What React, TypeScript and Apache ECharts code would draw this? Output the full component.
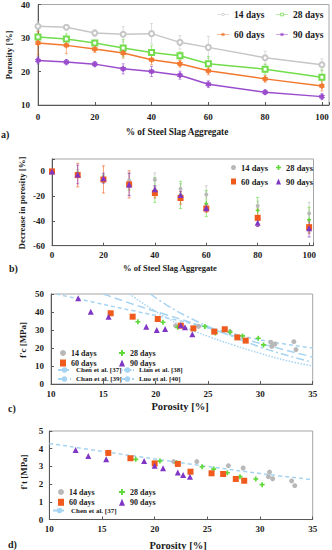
import React, { useEffect, useRef } from "react";
import * as echarts from "echarts";

// ---------- data ----------
const ssaLevels = [0, 10, 20, 30, 40, 50, 60, 80, 100];
const por14 = [33.5, 33.2, 31.5, 31.1, 31.3, 28.7, 27.2, 24.1, 22.0];
const por28 = [30.3, 29.7, 28.5, 27.0, 25.7, 24.7, 22.3, 20.7, 18.3];
const por60 = [28.5, 27.8, 26.7, 25.5, 23.5, 22.3, 20.2, 17.8, 15.7];
const por90 = [23.3, 22.8, 22.2, 20.8, 20.0, 18.9, 16.2, 13.8, 12.5];
const porErr14 = [1.5, 0.6, 1.0, 2.3, 3.0, 2.0, 3.3, 2.0, 1.8];
const porErr28 = [1.0, 1.5, 0.8, 2.5, 2.0, 1.2, 2.2, 1.5, 2.2];
const porErr60 = [3.5, 2.5, 1.0, 1.5, 1.5, 1.0, 1.2, 1.0, 1.5];
const porErr90 = [1.0, 0.8, 0.8, 1.5, 1.5, 1.2, 1.0, 0.7, 0.9];

const dec14 = [0, -1.5, -6, -7.3, -6.8, -14, -18.6, -28, -34];
const dec28 = [0, -2, -6, -11, -15, -19, -26, -31.5, -39];
const dec60 = [0, -3, -6.5, -10.5, -17.5, -21.5, -30, -37.5, -45];
const dec90 = [0, -2.5, -5.5, -10.5, -14.5, -19, -29.5, -41.5, -46];
const decErr14 = [0, 3, 3, 6, 5.5, 4, 7, 4, 9];
const decErr28 = [0, 2, 3, 4, 10, 11, 10.5, 10.5, 10];
const decErr60 = [0, 9.5, 11, 11, 4, 5, 3, 7, 5];
const decErr90 = [0, 7.5, 4, 9, 3, 3, 3, 3, 7];

// compressive strength vs porosity [porosity, f'c]
const fc14 = [[21.9, 32.4], [24.1, 32.0], [27.1, 29.1], [31.0, 23.2], [31.1, 20.9], [31.4, 22.2], [33.2, 23.5], [33.4, 19.1]];
const fc28 = [[18.3, 34.6], [20.7, 34.3], [22.1, 31.5], [24.7, 32.0], [25.7, 28.3], [27.1, 28.9], [28.3, 26.7], [29.8, 25.4], [30.3, 21.7]];
const fc60 = [[15.7, 39.3], [17.8, 37.4], [20.2, 36.1], [22.4, 32.4], [23.6, 30.9], [25.6, 29.1], [26.6, 30.4], [27.8, 25.9], [28.6, 24.1]];
const fc90 = [[12.6, 47.6], [13.8, 40.2], [15.5, 37.4], [19.1, 31.8], [20.1, 30.0], [20.9, 30.5], [22.4, 32.6], [22.8, 31.5], [23.5, 27.6]];
const chenFc = [[10.5, 50], [14, 45.5], [18, 40.5], [22, 35.5], [26, 30], [30, 24.5], [35, 20]];
const lianFc = [[17.5, 50], [19, 44], [21, 37], [23, 31], [25, 26.5], [27.5, 21.5], [30, 17], [32.5, 13], [35, 10]];
const chanFc = [[15, 50], [18, 44], [21, 38.5], [24, 33], [27, 27.5], [30, 22.5], [35, 15]];
const luoFc = [[19.5, 50], [21, 44], [23, 37.5], [25, 32], [27.5, 26], [30, 20.5], [32.5, 16], [35, 12]];

// tensile strength vs porosity [porosity, f't]
const ft14 = [[21.8, 3.27], [24.0, 3.27], [27.0, 3.04], [28.4, 2.91], [30.8, 2.42], [30.9, 2.68], [31.2, 2.3], [33.0, 2.18], [33.3, 1.91]];
const ft28 = [[18.2, 3.4], [20.5, 3.3], [22.1, 3.21], [24.5, 2.98], [25.6, 2.85], [26.9, 2.64], [28.1, 2.42], [29.6, 2.29], [30.2, 1.97]];
const ft60 = [[15.6, 3.76], [17.7, 3.46], [20.0, 3.17], [22.2, 3.14], [23.4, 2.7], [25.4, 2.61], [26.5, 2.57], [27.7, 2.29], [28.5, 2.19]];
const ft90 = [[12.5, 3.93], [13.7, 3.59], [15.4, 3.4], [19.0, 3.3], [20.0, 3.04], [20.8, 2.89], [22.2, 2.65], [22.7, 2.51], [23.35, 2.42]];
const chenFt = [[10, 4.3], [15, 3.85], [20, 3.42], [25, 3.0], [30, 2.6], [35, 2.25]];

const labelOf: Record<string, string> = {
  a14: "14 days", a28: "28 days", a60: "60 days", a90: "90 days",
  b14: "14 days", b28: "28 days", b60: "60 days", b90: "90 days",
  c14: "14 days", c28: "28 days", c60: "60 days", c90: "90 days",
  d14: "14 days", d28: "28 days", d60: "60 days", d90: "90 days",
  cChen: "Chen et al. [37]", cLian: "Lian et al. [38]", cChan: "Chan et al. [39]", cLuo: "Luo et al. [40]",
  dChen: "Chen et al. [37]",
};

const FONT = '"Liberation Serif", "Times New Roman", serif';
const GRAY = "#b8b8b8";
const GREEN = "#5fd83a";
const ORANGE = "#f05a1c";
const PURPLE = "#8036c4";
const LGRAY = "#c6c6c6";
const LGREEN = "#72dc4c";
const LORANGE = "#f2782e";
const LPURPLE = "#9a4ccc";
const BLUE = "#a6d4f2";

const PLUS = "path://M2,0H4V2H6V4H4V6H2V4H0V2H2Z";
const STAR =
  "path://M-0.6,-3L0.6,-3L0.6,3L-0.6,3ZM2.298,-2.02L2.898,-0.98L-2.298,2.02L-2.898,0.98ZM-2.898,-0.98L-2.298,-2.02L2.898,0.98L2.298,2.02Z";

// legend icons: line with marker (box 22 x 10)
const ICON_CIRCLE =
  "path://M0,4.4H8V5.6H0ZM14,4.4H22V5.6H14ZM8,5A3,3 0 1 1 14,5A3,3 0 1 1 8,5ZM9.3,5A1.7,1.7 0 1 0 12.7,5A1.7,1.7 0 1 0 9.3,5Z";
const ICON_SQUARE = "path://M0,4.4H8V5.6H0ZM14,4.4H22V5.6H14ZM8,2H14V8H8ZM9.3,3.3V6.7H12.7V3.3Z";
const ICON_STAR =
  "path://M0,4.4H22V5.6H0ZM10.3,1.7L11.7,1.7L11.7,8.3L10.3,8.3ZM13.508,2.744L14.208,3.956L8.492,7.256L7.792,6.044ZM7.792,3.956L8.492,2.744L14.208,6.044L13.508,7.256Z";

const zip = (xs: number[], ys: number[]) => xs.map((x, i) => [x, ys[i]]);
const zip3 = (xs: number[], ys: number[], es: number[]) => xs.map((x, i) => [x, ys[i], es[i]]);

function errSeries(name: string, idx: number, data: number[][], color: string, cap: number) {
  return {
    name,
    type: "custom",
    xAxisIndex: idx,
    yAxisIndex: idx,
    z: 1,
    encode: { x: 0, y: 1 },
    data,
    renderItem: (params: any, api: any) => {
      const x = api.value(0);
      const y = api.value(1);
      const e = api.value(2);
      if (!e) return { type: "group", children: [] };
      const p1 = api.coord([x, y + e]);
      const p2 = api.coord([x, y - e]);
      const st = { stroke: color, lineWidth: 1, opacity: 0.6 };
      return {
        type: "group",
        children: [
          { type: "line", shape: { x1: p1[0], y1: p1[1], x2: p2[0], y2: p2[1] }, style: st },
          { type: "line", shape: { x1: p1[0] - cap, y1: p1[1], x2: p1[0] + cap, y2: p1[1] }, style: st },
          { type: "line", shape: { x1: p2[0] - cap, y1: p2[1], x2: p2[0] + cap, y2: p2[1] }, style: st },
        ],
      };
    },
  };
}

function axisBase(extra: any) {
  return {
    type: "value",
    axisLine: { show: true, onZero: false, lineStyle: { color: "#595959", width: 1 } },
    axisTick: { show: true, inside: true, length: 3, lineStyle: { color: "#595959" } },
    splitLine: { show: false },
    ...extra,
    axisLabel: {
      fontFamily: FONT,
      fontWeight: "bold",
      fontSize: 9,
      color: "#1a1a1a",
      ...(extra.axisLabel || {}),
    },
  };
}

function scatter(name: string, idx: number, data: any[], color: string, symbol: string, size: number, z = 3) {
  return {
    name,
    type: "scatter",
    xAxisIndex: idx,
    yAxisIndex: idx,
    data,
    symbol,
    symbolSize: size,
    itemStyle: { color, opacity: 1 },
    z,
  };
}

function curve(name: string, idx: number, data: number[][], dash: any) {
  return {
    name,
    type: "line",
    xAxisIndex: idx,
    yAxisIndex: idx,
    data,
    smooth: 0.4,
    symbol: "none",
    showSymbol: false,
    lineStyle: { color: BLUE, width: 1.5, type: dash },
    itemStyle: { color: BLUE },
    z: 2,
  };
}

function lineS(name: string, data: number[][], color: string, symbol: string, size: number) {
  return {
    name,
    type: "line",
    xAxisIndex: 0,
    yAxisIndex: 0,
    data,
    symbol,
    symbolSize: size,
    showSymbol: true,
    lineStyle: { color, width: 1.5 },
    itemStyle: { color, borderColor: color, borderWidth: 1 },
    z: 3,
  };
}

function legend(names: any[], left: number, top: number, iw: number, ih: number, gap: number, fs: number, extra: any = {}) {
  return {
    show: true,
    orient: "vertical",
    left,
    top,
    padding: 0,
    itemWidth: iw,
    itemHeight: ih,
    itemGap: gap,
    selectedMode: false,
    data: names,
    formatter: (n: string) => labelOf[n] || n,
    textStyle: { fontFamily: FONT, fontWeight: "bold", fontSize: fs, color: "#1a1a1a", lineHeight: fs },
    ...extra,
  };
}

function txt(text: string, x: number, y: number, size: number, rotate = false, align = "center") {
  return {
    type: "text",
    x,
    y,
    rotation: rotate ? Math.PI / 2 : 0,
    style: {
      text,
      font: `bold ${size}px ${FONT}`,
      fill: "#1a1a1a",
      textAlign: align,
      textVerticalAlign: "middle",
      align,
      verticalAlign: "middle",
    },
  };
}

export default function App() {
  const ref = useRef<HTMLDivElement>(null);
  useEffect(() => {
    if (!ref.current) return;
    const chart = echarts.init(ref.current, undefined, { renderer: "svg" });
    const gridBase = { show: true, borderColor: "#a6a6a6", borderWidth: 1, backgroundColor: "transparent" };
    const noBorder = { itemStyle: { borderWidth: 0 } };
    const option: any = {
      animation: false,
      backgroundColor: "#ffffff",
      grid: [
        { ...gridBase, left: 38, top: 4, width: 292, height: 101 },
        { ...gridBase, left: 52, top: 159, width: 261.5, height: 86.7 },
        { ...gridBase, left: 51, top: 294, width: 261.7, height: 90 },
        { ...gridBase, left: 49.3, top: 431, width: 263.4, height: 88.5 },
      ],
      xAxis: [
        axisBase({ gridIndex: 0, min: 0, max: 102.5, interval: 20, axisLabel: { margin: 7, formatter: (v: number) => (v % 20 === 0 ? String(v) : "") } }),
        axisBase({ gridIndex: 1, min: 0, max: 101.7, interval: 20, axisLabel: { margin: 5, formatter: (v: number) => (v % 20 === 0 ? String(v) : "") } }),
        axisBase({ gridIndex: 2, min: 10, max: 35, interval: 5, axisLabel: { margin: 5 } }),
        axisBase({ gridIndex: 3, min: 10, max: 35, interval: 5, axisLabel: { margin: 5 } }),
      ],
      yAxis: [
        axisBase({ gridIndex: 0, min: 10, max: 40, interval: 10, axisLabel: { margin: 8 } }),
        axisBase({ gridIndex: 1, min: -60, max: 10, interval: 20, axisLabel: { margin: 7, formatter: (v: number) => (v <= 0 ? String(v) : "") } }),
        axisBase({ gridIndex: 2, min: 0, max: 50, interval: 10, axisLabel: { margin: 7 } }),
        axisBase({ gridIndex: 3, min: 0, max: 5, interval: 1, axisLabel: { margin: 6 } }),
      ],
      legend: [
        legend([{ name: "a14", icon: ICON_CIRCLE }, { name: "a60", icon: ICON_STAR }], 217, 9.5, 12, 5, 10, 9.5, noBorder),
        legend([{ name: "a28", icon: ICON_SQUARE }, { name: "a90", icon: ICON_STAR }], 276, 9.5, 12, 5, 10, 9.5, noBorder),
        legend(["b14", "b60"], 231, 163, 5, 6, 5, 8.5),
        legend(["b28", "b90"], 276, 163, 5, 6, 5, 8.5),
        legend(["c14", "c60"], 60, 349, 6, 7, 2, 8),
        legend(["c28", "c90"], 119, 349, 6, 7, 2, 8),
        legend(["cChen", "cChan"], 57, 366.5, 13, 7, 2, 7),
        legend(["cLian", "cLuo"], 120, 366.5, 13, 7, 2, 7),
        legend(["d14", "d60"], 58, 488, 6, 7, 2.3, 8),
        legend(["d28", "d90"], 119, 488, 6, 7, 2.3, 8),
        legend(["dChen"], 52, 507, 13, 7, 2, 7),
      ],
      series: [
        // panel a
        errSeries("ea14", 0, zip3(ssaLevels, por14, porErr14), LGRAY, 1.5),
        errSeries("ea28", 0, zip3(ssaLevels, por28, porErr28), LGREEN, 1.5),
        errSeries("ea60", 0, zip3(ssaLevels, por60, porErr60), LORANGE, 1.5),
        errSeries("ea90", 0, zip3(ssaLevels, por90, porErr90), LPURPLE, 1.5),
        lineS("a14", zip(ssaLevels, por14), LGRAY, "emptyCircle", 5),
        lineS("a28", zip(ssaLevels, por28), LGREEN, "emptyRect", 5),
        lineS("a60", zip(ssaLevels, por60), LORANGE, STAR, 5),
        lineS("a90", zip(ssaLevels, por90), LPURPLE, STAR, 5),
        // panel b
        errSeries("eb14", 1, zip3(ssaLevels, dec14, decErr14), GRAY, 1.5),
        errSeries("eb28", 1, zip3(ssaLevels, dec28, decErr28), GREEN, 1.5),
        errSeries("eb60", 1, zip3(ssaLevels, dec60, decErr60), ORANGE, 1.5),
        errSeries("eb90", 1, zip3(ssaLevels, dec90, decErr90), PURPLE, 1.5),
        scatter("b14", 1, zip(ssaLevels, dec14), GRAY, "circle", 4),
        scatter("b28", 1, zip(ssaLevels, dec28), GREEN, PLUS, 4),
        scatter("b60", 1, zip(ssaLevels, dec60), ORANGE, "rect", 6),
        scatter("b90", 1, zip(ssaLevels, dec90), PURPLE, "triangle", 6),
        // panel c
        curve("cChen", 2, chenFc, [4, 3]),
        curve("cLian", 2, lianFc, [1.5, 1.5]),
        curve("cChan", 2, chanFc, [8, 4]),
        curve("cLuo", 2, luoFc, [8, 3, 2, 3]),
        scatter("c14", 2, fc14, GRAY, "circle", 5),
        scatter("c28", 2, fc28, GREEN, PLUS, 5),
        scatter("c60", 2, fc60, ORANGE, "rect", 6),
        scatter("c90", 2, fc90, PURPLE, "triangle", 6),
        // panel d
        curve("dChen", 3, chenFt, [4, 3]),
        scatter("d14", 3, ft14, GRAY, "circle", 5),
        scatter("d28", 3, ft28, GREEN, PLUS, 5),
        scatter("d60", 3, ft60, ORANGE, "rect", 6),
        scatter("d90", 3, ft90, PURPLE, "triangle", 6),
      ],
      graphic: [
        txt("Porosity [%]", 9, 55, 9, true),
        txt("% of Steel Slag Aggregate", 177, 132, 9.3),
        txt("a)", 1, 134, 10, false, "left"),
        txt("Decrease in porosity [%]", 22, 203, 8.8, true),
        txt("% of Steel Slag Aggregate", 170, 268, 8.5),
        txt("b)", 9, 268, 10, false, "left"),
        txt("f'c [MPa]", 23, 340, 9, true),
        txt("Porosity [%]", 180, 406, 10.5),
        txt("c)", 8, 408, 10, false, "left"),
        txt("f't [MPa]", 24, 472, 9, true),
        txt("Porosity [%]", 178, 545, 10.5),
        txt("d)", 8, 544, 10, false, "left"),
      ],
    };
    chart.setOption(option);
    return () => chart.dispose();
  }, []);
  return (
    <div
      ref={ref}
      style={{ position: "fixed", left: 0, top: 0, width: 332, height: 550, background: "#fff" }}
    />
  );
}
